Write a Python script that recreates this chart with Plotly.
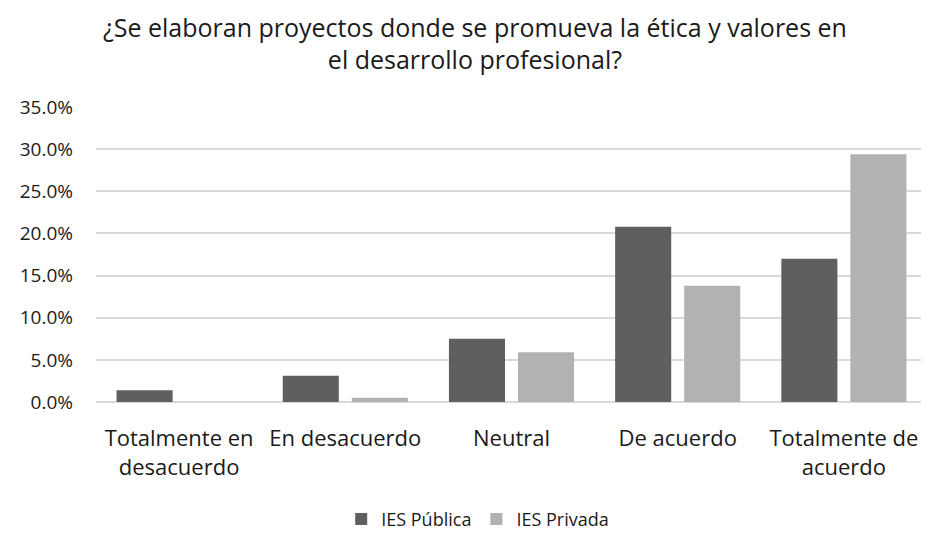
import plotly.graph_objects as go

categories = ["Totalmente en<br>desacuerdo", "En desacuerdo", "Neutral", "De acuerdo", "Totalmente de<br>acuerdo"]
ies_publica = [0.014, 0.031, 0.075, 0.208, 0.170]
ies_privada = [0.0, 0.005, 0.059, 0.138, 0.294]
series_names = ["IES Pública", "IES Privada"]
title_text = "¿Se elaboran proyectos donde se promueva la ética y valores en<br>el desarrollo profesional?"

FONT = "Open Sans"
TXT = "#1a1a1a"

# the page body keeps an 8px margin, so the figure is sized to the visible area
W, H = 921, 526

fig = go.Figure()
fig.add_trace(go.Bar(x=categories, y=ies_publica, name=series_names[0],
                     marker=dict(color="#5f5f5f", line=dict(width=0))))
fig.add_trace(go.Bar(x=categories, y=ies_privada, name=series_names[1],
                     marker=dict(color="#b2b2b2", line=dict(width=0))))

fig.update_layout(
    width=W, height=H,
    paper_bgcolor="white", plot_bgcolor="white",
    margin=dict(l=88, r=2, t=99, b=132),
    barmode="group", bargap=0.169, bargroupgap=0.188,
    font=dict(family=FONT, color=TXT),
    title=dict(text=title_text, x=0.507, xanchor="center", xref="container",
               y=0.945, yanchor="top", yref="container",
               font=dict(family=FONT, size=25, color=TXT)),
    showlegend=True,
    legend=dict(orientation="h", xref="container", yref="container",
                x=0.51, xanchor="center", y=0.028, yanchor="middle",
                font=dict(family=FONT, size=18, color=TXT),
                itemwidth=30, traceorder="normal"),
    xaxis=dict(showgrid=False, showline=False, ticks="",
               tickfont=dict(family=FONT, size=22, color=TXT),
               ticklabelstandoff=21),
    yaxis=dict(range=[0, 0.35], dtick=0.05, tick0=0, tickformat=".1%",
               showgrid=True, gridcolor="#d9d9d9", gridwidth=1.5,
               zeroline=True, zerolinecolor="#d9d9d9", zerolinewidth=1.5,
               showline=False, ticks="",
               tickfont=dict(family=FONT, size=19, color=TXT),
               ticklabelstandoff=22),
)

fig.write_html("out.html")
